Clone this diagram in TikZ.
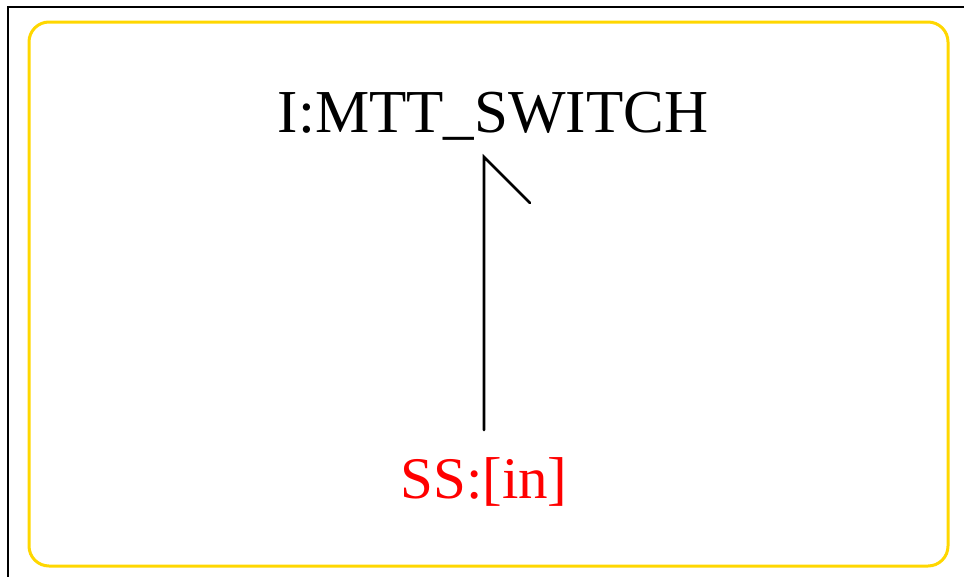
\documentclass[tikz,border=0pt]{standalone}
\usepackage{fontspec}
\setmainfont{Liberation Serif}
\usetikzlibrary{positioning}

\definecolor{gold}{RGB}{255,215,0}

\tikzset{
    frame/.style={draw=black, line width=2.5pt},
    boundary/.style={draw=gold, line width=3pt, rounded corners=20pt},
    label/.style={font=\fontsize{61}{72}\selectfont, inner sep=0pt, anchor=base},
    bond/.style={line width=2.6pt, line cap=round, line join=miter}
}

\begin{document}
\begin{tikzpicture}[x=1pt, y=-1pt]

    \useasboundingbox (0,0) rectangle (964,576);

    % outer frame (cut at the page edge)
    \draw[frame] (8,590) -- (8,7) -- (980,7);
    \draw[boundary] (29,22) rectangle (948,566);

    \node[label] (switch) at (493,132) {I:MTT\_SWITCH};
    \node[label, red, font=\fontsize{59}{70}\selectfont] (ss) at (484,498) {SS:[in]};

    \coordinate (tip) at (484,157);
    \draw[bond] (ss.north |- 0,430) -- (tip) -- ++(46,46);

\end{tikzpicture}
\end{document}
